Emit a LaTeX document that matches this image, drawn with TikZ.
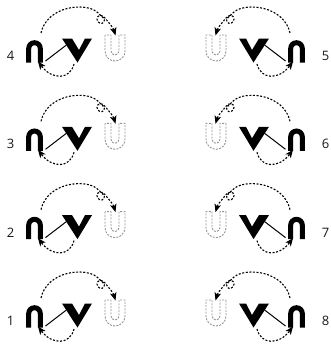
\documentclass[tikz,border=0pt]{standalone}
\usepackage{fontspec}
\setmainfont{Open Sans}
\usetikzlibrary{arrows.meta}
\begin{document}
\begin{tikzpicture}[x=1pt,y=-1pt,
  dots/.style={line width=1.1pt, dash pattern=on 2pt off 1.6pt, -{Stealth[length=8pt,width=6.5pt,inset=2pt]}},
  ghost/.style={draw=black!42, line width=0.9pt, dash pattern=on 2pt off 1.3pt},
  arch/.style={line width=5pt},
  vee/.style={fill=black},
  link/.style={line width=1pt},
  num/.style={font=\fontsize{13}{13}\selectfont, text=black!90, inner sep=0pt},
  panel/.pic={
    \coordinate (-al) at (28.7,62.5);
    \coordinate (-ar) at (40.3,62.5);
    \draw[arch] (-al) -- (28.7,48.5) arc[start angle=180,end angle=360,radius=5.8] -- (-ar);
    \fill[vee] (62,38.5) -- (72,38.5) -- (79,50) -- (85,38.5) -- (92,38.5) -- (77.5,62.5) -- cycle;
    \coordinate (-vl) at (66.4,45);
    \coordinate (-lb) at (45.5,61);
    \draw[link] (-lb) -- (-vl);
    \draw[ghost] (105,35) -- (105,51) arc[start angle=180,end angle=0,radius=10] -- (125,35) -- (119,35) -- (119,51) arc[start angle=0,end angle=180,radius=4] -- (111,35) -- cycle;
    \coordinate (-top) at (41,33);
    \coordinate (-loop) at (97,12);
    \coordinate (-ut) at (115.5,35.5);
    \draw[dots] (-top) .. controls (47,6) and (85,2) .. (-loop)
      .. controls (101,16) and (106,19) .. (104,22)
      .. controls (102,25) and (97,23) .. (97,19)
      .. controls (97,15) and (102,14) .. (105,18)
      .. controls (108,22) and (113,27) .. (-ut);
    \coordinate (-vb) at (74,64);
    \coordinate (-ab) at (38,61.5);
    \draw[dots] (-vb) .. controls (70,80) and (52,80) .. (-ab);
  }
]
\useasboundingbox (0,0) rectangle (331,346);
\pic (p4) at (0,0) {panel};
\pic (p3) at (0,88.3) {panel};
\pic (p2) at (0,176.6) {panel};
\pic (p1) at (0,265) {panel};
\pic[xscale=-1] (p5) at (331,0) {panel};
\pic[xscale=-1] (p6) at (331,88.3) {panel};
\pic[xscale=-1] (p7) at (331,176.6) {panel};
\pic[xscale=-1] (p8) at (331,265) {panel};
\node[num] (n4) at (10.5,56) {4};
\node[num] (n3) at (10.5,144.3) {3};
\node[num] (n2) at (10.5,232.6) {2};
\node[num] (n1) at (10.5,321) {1};
\node[num] (n5) at (325.5,56) {5};
\node[num] (n6) at (325.5,144.3) {6};
\node[num] (n7) at (325.5,232.6) {7};
\node[num] (n8) at (325.5,321) {8};
\end{tikzpicture}
\end{document}
